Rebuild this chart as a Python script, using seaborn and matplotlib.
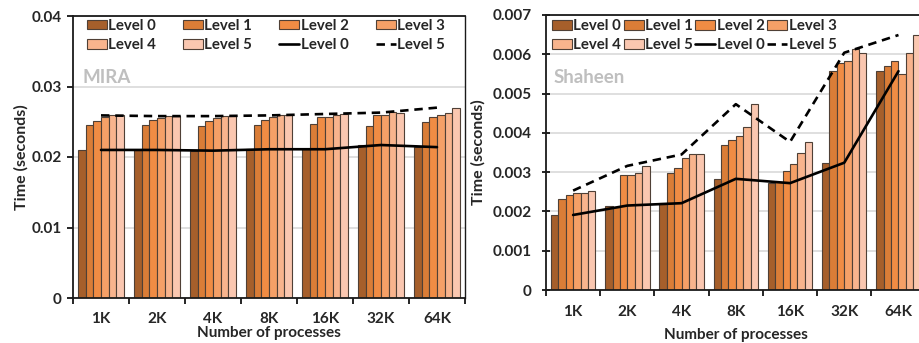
import matplotlib
matplotlib.use("Agg")
import numpy as np
import pandas as pd
import seaborn as sns
import matplotlib.pyplot as plt
from matplotlib.patches import Patch
from matplotlib.lines import Line2D
from matplotlib.ticker import FixedLocator, FuncFormatter

# ---- data -------------------------------------------------------------
procs = ["1K", "2K", "4K", "8K", "16K", "32K", "64K"]
levels = ["Level 0", "Level 1", "Level 2", "Level 3", "Level 4", "Level 5"]

mira_l0 = [0.0210, 0.0210, 0.0209, 0.0211, 0.0211, 0.0217, 0.0214]
mira_l1 = [0.0246, 0.0246, 0.0244, 0.0246, 0.0247, 0.0244, 0.0250]
mira_l2 = [0.0251, 0.0253, 0.0251, 0.0253, 0.0257, 0.0259, 0.0257]
mira_l3 = [0.0257, 0.0256, 0.0256, 0.0257, 0.0257, 0.0259, 0.0260]
mira_l4 = [0.0259, 0.0258, 0.0258, 0.0259, 0.0260, 0.0264, 0.0263]
mira_l5 = [0.0259, 0.0258, 0.0258, 0.0259, 0.0261, 0.0263, 0.0270]

shaheen_l0 = [0.00191, 0.00215, 0.00221, 0.00283, 0.00272, 0.00324, 0.00557]
shaheen_l1 = [0.00232, 0.00212, 0.00299, 0.00369, 0.00274, 0.00557, 0.00571]
shaheen_l2 = [0.00242, 0.00294, 0.00310, 0.00382, 0.00304, 0.00577, 0.00584]
shaheen_l3 = [0.00246, 0.00294, 0.00337, 0.00392, 0.00320, 0.00584, 0.00549]
shaheen_l4 = [0.00246, 0.00297, 0.00345, 0.00416, 0.00349, 0.00613, 0.00602]
shaheen_l5 = [0.00253, 0.00316, 0.00345, 0.00473, 0.00377, 0.00604, 0.00649]

mira_ticks = [0, 0.01, 0.02, 0.03, 0.04]
shaheen_ticks = [0, 0.001, 0.002, 0.003, 0.004, 0.005, 0.006, 0.007]

palette = ["#A65F2B", "#DA7D37", "#F08C44", "#F5A067", "#F8B48D", "#FAC7B0"]

# ---- style ------------------------------------------------------------
sns.set_style("white")
plt.rcParams["font.family"] = ["Lato", "DejaVu Sans"]
plt.rcParams["font.weight"] = "bold"
TICK_FS = 11
LABEL_FS = 11
LEG_FS = 10.8
EDGE = "#4f4036"


def long_table(series):
    rows = []
    for lvl, vals in zip(levels, series):
        for p, v in zip(procs, vals):
            rows.append({"procs": p, "level": lvl, "time": v})
    return pd.DataFrame(rows)


def fmt(v, _pos):
    return "0" if v == 0 else f"{v:g}"


def panel(ax, series, ticks, title, title_xy, tick_dir, tick_len, ytick_pad,
          xtick_pad, xlabelpad, ylabelpad, legend_anchor, colspacing):
    df = long_table(series)
    sns.barplot(data=df, x="procs", y="time", hue="level", order=procs,
                hue_order=levels, palette=palette, saturation=1,
                width=0.82, gap=0, errorbar=None, legend=False,
                edgecolor=EDGE, linewidth=0.8, ax=ax, zorder=2)
    xs = np.arange(len(procs))
    sns.lineplot(x=xs, y=series[0], color="black", lw=1.9, ax=ax, zorder=4)
    sns.lineplot(x=xs, y=series[5], color="black", lw=1.9,
                 linestyle=(0, (3.2, 2.2)), ax=ax, zorder=4)

    ax.set_xlim(-0.5, len(procs) - 0.5)
    ax.set_ylim(ticks[0], ticks[-1])
    ax.yaxis.set_major_locator(FixedLocator(ticks))
    ax.yaxis.set_major_formatter(FuncFormatter(fmt))
    ax.yaxis.grid(True, color="#d9d9d9", lw=1.2)
    ax.xaxis.grid(False)
    ax.set_axisbelow(True)

    ax.set_xticks(xs)
    ax.set_xticklabels(procs)
    ax.set_xticks(np.arange(-0.5, len(procs)), minor=True)
    ax.tick_params(axis="x", which="major", length=0, pad=xtick_pad,
                   labelsize=TICK_FS)
    ax.tick_params(axis="x", which="minor", length=4.5, width=1.2,
                   direction="out", color="black", bottom=True)
    ax.tick_params(axis="y", which="major", length=tick_len, width=1.2,
                   direction=tick_dir, color="black", pad=ytick_pad,
                   labelsize=TICK_FS, left=True)
    for lab in ax.get_xticklabels() + ax.get_yticklabels():
        lab.set_fontweight("bold")

    ax.set_xlabel("Number of processes", fontsize=LABEL_FS,
                  fontweight="bold", labelpad=xlabelpad)
    ax.set_ylabel("Time (seconds)", fontsize=LABEL_FS + 0.5,
                  fontweight="bold", labelpad=ylabelpad)

    for side in ["left", "bottom", "top"]:
        ax.spines[side].set_visible(True)
        ax.spines[side].set_color("#1a1a1a")
        ax.spines[side].set_linewidth(1.3)
    ax.spines["right"].set_visible(True)
    ax.spines["right"].set_color("#1a1a1a")
    ax.spines["right"].set_linewidth(1.0)

    ax.text(title_xy[0], title_xy[1], title, transform=ax.transAxes,
            color="#bfbfbf", fontsize=13.5, fontweight="bold",
            ha="left", va="baseline")

    patches = [Patch(facecolor=c, edgecolor=EDGE, lw=0.8, label=l)
               for c, l in zip(palette, levels)]
    solid = Line2D([], [], color="black", lw=1.9, label="Level 0")
    dashed = Line2D([], [], color="black", lw=1.9,
                    linestyle=(0, (3.2, 2.2)), label="Level 5")
    # column-major fill, giving rows of four
    handles = [patches[0], patches[4], patches[1], patches[5],
               patches[2], solid, patches[3], dashed]
    ax.legend(handles=handles, labels=[h.get_label() for h in handles],
              ncol=4, loc="upper left", bbox_to_anchor=legend_anchor,
              frameon=False, borderaxespad=0, borderpad=0,
              handlelength=1.33, handleheight=0.6, handletextpad=0.1,
              labelspacing=0.35, columnspacing=colspacing,
              prop={"weight": "bold", "size": LEG_FS})


fig = plt.figure(figsize=(9.2, 3.43), dpi=100)
W, H = 920, 343
ax1 = fig.add_axes([73 / W, (H - 298) / H, 392 / W, 282 / H])
ax2 = fig.add_axes([546 / W, (H - 290) / H, 379.6 / W, 275 / H])

panel(ax1,
      [mira_l0, mira_l1, mira_l2, mira_l3, mira_l4, mira_l5],
      mira_ticks, "MIRA", (0.023, 0.762), "out", 4.3, 3.8, 9.8, 0.5, 2.0,
      (0.035, 0.99), 1.8)
panel(ax2,
      [shaheen_l0, shaheen_l1, shaheen_l2, shaheen_l3, shaheen_l4, shaheen_l5],
      shaheen_ticks, "Shaheen", (0.021, 0.753), "inout", 5.8, 7.4, 11.0, 6.0,
      5.0, (0.015, 0.985), 0.17)

fig.savefig("out.png", dpi=100)
